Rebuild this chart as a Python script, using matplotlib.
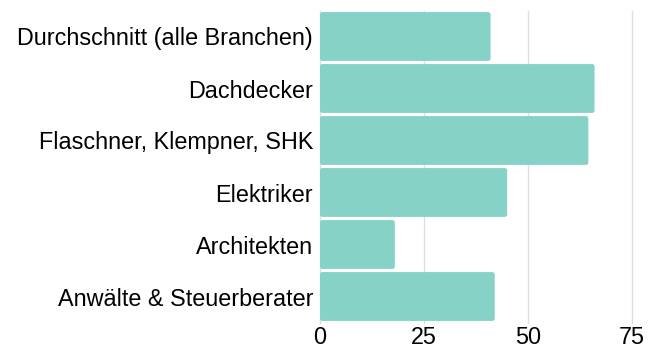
import matplotlib
matplotlib.use("Agg")
import matplotlib.pyplot as plt
from matplotlib.patches import FancyBboxPatch

categories = [
    "Durchschnitt (alle Branchen)",
    "Dachdecker",
    "Flaschner, Klempner, SHK",
    "Elektriker",
    "Architekten",
    "Anwälte & Steuerberater",
]
values = [41, 66, 64.5, 45, 18, 42]
x_ticks = [0, 25, 50, 75]

bar_color = "#86d2c6"
grid_color = "#dddddd"

plt.rcParams["font.family"] = ["Liberation Sans", "DejaVu Sans"]

W, H = 655, 347
fig = plt.figure(figsize=(W / 100, H / 100), dpi=100)
ax = fig.add_axes([320 / W, 1 - 322.5 / H, (632 - 320) / W, (322.5 - 10.5) / H])

ypos = list(range(len(categories)))
bars = ax.barh(ypos, values, height=0.94, color=bar_color)

# swap the plain rectangles for slightly rounded ones
px_x = (632 - 320) / 75.0
px_y = 52.0
for rect in bars.patches:
    x, y = rect.get_x(), rect.get_y()
    w, h = rect.get_width(), rect.get_height()
    rect.set_visible(False)
    rounded = FancyBboxPatch(
        (x, y), w, h,
        boxstyle="round,pad=0,rounding_size=%f" % (2.5 / px_x),
        mutation_aspect=px_x / px_y,
        facecolor=bar_color, edgecolor="none", zorder=2,
    )
    ax.add_patch(rounded)

ax.set_xlim(0, 75)
ax.set_ylim(len(categories) - 0.5, -0.5)
ax.set_yticks(ypos)
ax.set_yticklabels(categories)
ax.set_xticks(x_ticks)
ax.set_xticklabels([str(t) for t in x_ticks])

ax.tick_params(axis="y", length=0, pad=5, labelsize=16.8, labelcolor="#000000")
ax.tick_params(axis="x", length=0, pad=2.5, labelsize=16.8, labelcolor="#000000")

ax.grid(axis="x", color=grid_color, linewidth=1.0, zorder=0)
for gl in ax.get_xgridlines():
    gl.set_clip_on(False)
ax.set_axisbelow(True)
for s in ax.spines.values():
    s.set_visible(False)

fig.savefig("out.png", dpi=100, facecolor="white")
